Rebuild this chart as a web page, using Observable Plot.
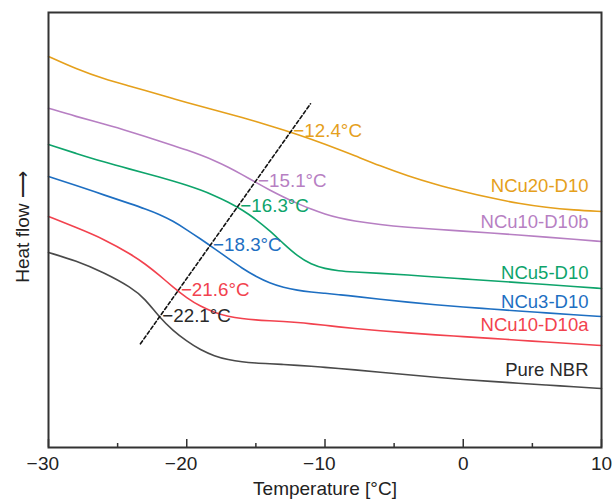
<!DOCTYPE html>
<html><head><meta charset="utf-8">
<script src="https://cdn.jsdelivr.net/npm/d3@7"></script>
<script src="https://cdn.jsdelivr.net/npm/@observablehq/plot@0.6"></script>
<style>body{margin:0;background:#fff}</style>
</head><body><div id="chart"></div>
<script>
// Temperature grid [°C]
const temperatures = [-30,-28,-26,-24,-23,-22,-21,-20,-19,-18,-17,-16,-15,-14,-13,-12,-11,-10,-9,-8,-6,-4,-2,0,2,4,6,8,10];
// Heat flow (arbitrary units, curves shifted vertically)
const ncu20d10  = [391,378.5,368.5,361,357,353,349,345,341.2,337.5,333.8,330,326,321.8,317.5,313,308.2,303.2,298,292.7,281.5,271.5,263,256,249.5,244,240,237.5,236];
const ncu10d10b = [339.3,331,323.5,315.5,311,306.5,302,297.5,292.5,287,280.5,273,265,257.5,250.5,244,238.3,233.3,229.5,226.7,222.8,220.2,218.2,216.4,214.5,212.5,210.4,208.2,206];
const ncu5d10   = [303,294,285.5,278,274.3,270.5,266.5,262.3,257.5,252,245.5,237.8,228.3,216.8,203.8,191.5,183,178.8,176.6,175.6,174.2,172.5,170.4,168.6,166.8,164.9,163,161,159];
const ncu3d10   = [271,262,252.6,243.4,238.6,233.3,226.5,217.8,208.5,199,189,179.3,171,164.5,160,157.2,155.5,154.2,152.8,151.5,148.2,145.3,142.6,140.5,138.5,136.5,134.6,132.7,131];
const ncu10d10a = [231,220,208.5,193,183.5,172.5,160.5,149.5,141,135,131,128.8,127.6,126.8,126,125,123.7,122.2,120.6,119.2,116.6,114.6,112.6,110.9,109.1,107.3,105.5,103.7,102];
const pureNBR   = [195,186.8,175,160,148.5,130.5,117,106.3,97.5,91.5,87.7,85.5,84.4,83.7,83,82.2,81.2,80.1,79,77.8,75.3,72.7,70.2,68,66.1,64.3,62.5,60.8,59];
const seriesNames = ["NCu20-D10","NCu10-D10b","NCu5-D10","NCu3-D10","NCu10-D10a","Pure NBR"];
const tgLabels = ["−12.4°C","−15.1°C","−16.3°C","−18.3°C","−21.6°C","−22.1°C"];
// Dashed guide line end points (temperature, heat flow)
const guideT = [-23.35, -11.05];
const guideHF = [103.7, 343.7];
const xTicks = [-30,-20,-10,0,10];
const xMinorTicks = [-25,-15,-5,5];

// styles
const colors = ["#e5a01c","#b77fc3","#0ea46b","#1e6fc2","#f2424e","#4a4a4a"];
const textColors = ["#e5a01c","#b77fc3","#0ea46b","#1e6fc2","#f2424e","#2a2a2a"];
const nameDy = [-25,-19,-15,-14,-20,-18];
const W = 614, H = 499, mL = 48, mR = 13, mT = 12, mB = 52;
const frameH = H - mT - mB;

const values = [ncu20d10, ncu10d10b, ncu5d10, ncu3d10, ncu10d10a, pureNBR];
const rows = [];
values.forEach((vals, s) => vals.forEach((v, i) => rows.push({series: seriesNames[s], T: temperatures[i], hf: v})));
const guide = guideT.map((t, i) => ({T: t, hf: guideHF[i]}));

function lineAt(t) {
  return guideHF[0] + (guideHF[1] - guideHF[0]) * (t - guideT[0]) / (guideT[1] - guideT[0]);
}
function crossing(vals) {
  for (let i = 0; i < temperatures.length - 1; i++) {
    const t0 = temperatures[i], t1 = temperatures[i + 1];
    const d0 = vals[i] - lineAt(t0), d1 = vals[i + 1] - lineAt(t1);
    if ((d0 >= 0 && d1 <= 0) || (d0 <= 0 && d1 >= 0)) {
      const f = d0 / (d0 - d1);
      const t = t0 + f * (t1 - t0);
      return {T: t, hf: lineAt(t)};
    }
  }
  return null;
}

const font = "'Liberation Sans', Arial, Helvetica, sans-serif";
const marks = [
  Plot.line(rows, {x: "T", y: "hf", z: "series", stroke: "series", strokeWidth: 1.6, curve: "basis"}),
  Plot.line(guide, {x: "T", y: "hf", stroke: "#111", strokeWidth: 1.6, strokeDasharray: "3.5,2.5"}),
];
values.forEach((vals, s) => {
  const c = crossing(vals);
  if (c) marks.push(Plot.text([c], {x: "T", y: "hf", text: () => tgLabels[s], fill: textColors[s], textAnchor: "start", dx: 3, dy: -1, fontSize: 18.8}));
  marks.push(Plot.text([{T: temperatures[temperatures.length - 1], hf: vals[vals.length - 1]}],
    {x: "T", y: "hf", text: () => seriesNames[s], fill: textColors[s], textAnchor: "end", dx: -13, dy: nameDy[s], fontSize: 18.5}));
});
marks.push(
  Plot.frame({stroke: "#333", strokeWidth: 2}),
  Plot.ruleX(xTicks, {x: d => d, stroke: "#333", strokeWidth: 1.5, insetTop: frameH - 8}),
  Plot.ruleX(xMinorTicks, {x: d => d, stroke: "#333", strokeWidth: 1.5, insetTop: frameH - 4}),
  Plot.text(xTicks, {x: d => d, text: d => String(Math.abs(d)), frameAnchor: "bottom", lineAnchor: "top", textAnchor: "middle", dy: 9, fill: "#222", fontSize: 19}),
  Plot.text(xTicks.filter(d => d < 0), {x: d => d, text: () => "−", frameAnchor: "bottom", lineAnchor: "top", textAnchor: "end", dx: -11, dy: 9, fill: "#222", fontSize: 19}),
  Plot.text(["Temperature [°C]"], {text: d => d, frameAnchor: "bottom", lineAnchor: "middle", textAnchor: "middle", dy: 41, fill: "#222", fontSize: 19}),
  Plot.text(["Heat flow ⟶"], {text: d => d, frameAnchor: "left", textAnchor: "middle", lineAnchor: "middle", rotate: -90, dx: -26, dy: -3, fill: "#222", fontSize: 19})
);

const chart = Plot.plot({
  width: W, height: H, marginLeft: mL, marginRight: mR, marginTop: mT, marginBottom: mB,
  style: {fontFamily: font, fontSize: "18px", background: "#fff", overflow: "visible"},
  x: {domain: [-30, 10], axis: null},
  y: {domain: [0, frameH], axis: null},
  color: {domain: seriesNames, range: colors},
  marks
});
document.getElementById("chart").appendChild(chart);
</script>
</body></html>
